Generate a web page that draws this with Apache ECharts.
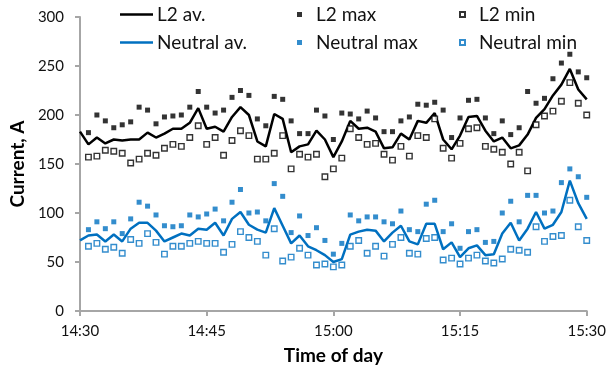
<!DOCTYPE html>
<html><head><meta charset="utf-8">
<script src="https://cdn.jsdelivr.net/npm/echarts@6/dist/echarts.min.js"></script>
<style>html,body{margin:0;padding:0;background:#fff}#c{width:609px;height:370px}</style>
</head><body><div id="c"></div>
<script>
// minutes after 14:30 (0..60)
const minutes = Array.from({length: 61}, (_, i) => i);
const tickLabels = ['14:30', '14:45', '15:00', '15:15', '15:30'];

const l2Av = [183,170,177,171,175,174,175,175,182,177,181,186,186,192,207,186,188,183,198,208,
  200,173,168,201,196,162,168,170,184,175,157,173,194,186,187,183,166,167,181,175,
  194,192,202,175,165,179,198,199,184,173,177,166,169,180,197,206,220,231,247,226,216];
const l2Max = [null,182,200,194,187,190,193,208,205,191,198,199,200,208,224,208,202,205,218,225,
  220,196,189,219,216,194,181,181,205,199,175,202,201,196,204,197,183,183,194,198,
  211,210,213,205,177,197,215,216,197,181,194,180,187,224,212,217,237,253,262,244,238];
const l2Min = [null,157,158,164,163,161,151,155,161,159,166,170,168,177,189,170,177,159,174,184,
  179,155,155,161,179,145,160,157,160,137,145,156,186,177,170,171,160,154,168,158,
  179,177,196,166,156,171,186,187,168,165,162,150,162,143,190,199,204,214,233,212,200];

const nAv = [72,77,78,71,78,71,84,90,90,82,71,75,79,77,84,83,90,77,94,101,
  88,83,80,105,87,69,77,66,62,57,50,53,78,81,83,82,71,80,87,71,
  68,89,89,63,70,55,64,67,57,58,79,90,72,84,101,84,88,101,133,110,94];
const nMax = [null,83,91,84,91,79,94,111,107,98,87,86,87,98,96,99,104,92,111,124,
  100,101,92,130,117,80,97,77,85,72,58,69,98,92,96,96,91,89,102,83,
  81,109,113,81,89,64,81,83,70,71,100,112,91,118,118,100,102,131,145,137,116];
const nMin = [null,66,69,63,65,59,73,69,79,70,58,66,66,69,71,69,69,60,68,81,
  75,71,57,84,51,55,64,57,47,48,45,47,66,72,59,66,56,68,75,59,
  58,74,75,52,54,48,54,57,51,49,53,63,62,60,86,71,76,77,113,86,72];

const BLUE = '#0070C0';
const FONT = 'Lato';
const pairs = arr => arr.map((v, i) => [minutes[i], v]);

const chart = echarts.init(document.getElementById('c'), null, {renderer: 'canvas'});

function legendItem(name, left, top, isLine) {
  return {
    data: [{name: name, icon: 'rect'}], left: left, top: top, orient: 'horizontal',
    itemWidth: isLine ? 33 : 5, itemHeight: isLine ? 2.5 : 5, itemGap: 0,
    textStyle: {fontFamily: FONT, fontSize: 19, color: '#111', padding: [0, 0, 0, isLine ? -1 : 9]},
    padding: 0, selectedMode: false
  };
}

chart.setOption({
  animation: false,
  backgroundColor: '#fff',
  grid: {left: 72, right: 21, top: 17, bottom: 59, containLabel: false},
  legend: [
    legendItem('L2 av.', 120, 5, true),
    legendItem('L2 max', 297, 5, false),
    legendItem('L2 min', 459, 5, false),
    legendItem('Neutral av.', 120, 33, true),
    legendItem('Neutral max', 297, 33, false),
    legendItem('Neutral min', 459, 33, false)
  ],
  xAxis: {
    type: 'value', min: 0, max: 60, interval: 15,
    name: 'Time of day', nameLocation: 'middle', nameGap: 35,
    nameTextStyle: {fontFamily: FONT, fontSize: 19, fontWeight: 'bold', color: '#000'},
    axisLine: {show: true, lineStyle: {color: '#A6A6A6', width: 2}},
    axisTick: {show: true, length: 5, lineStyle: {color: '#A6A6A6', width: 2}},
    axisLabel: {fontFamily: FONT, fontSize: 15, color: '#111', margin: 13,
      formatter: v => tickLabels[Math.round(v / 15)]},
    splitLine: {show: false}
  },
  yAxis: {
    type: 'value', min: 0, max: 300, interval: 50,
    name: 'Current, A', nameLocation: 'middle', nameGap: 47, nameRotate: 90,
    nameTextStyle: {fontFamily: FONT, fontSize: 19, fontWeight: 'bold', color: '#000'},
    axisLine: {show: true, lineStyle: {color: '#A6A6A6', width: 2}},
    axisTick: {show: true, length: 5, lineStyle: {color: '#A6A6A6', width: 2}},
    axisLabel: {fontFamily: FONT, fontSize: 15, color: '#111', margin: 16},
    splitLine: {show: false}
  },
  series: [
    {name: 'L2 av.', type: 'line', data: pairs(l2Av), symbol: 'none',
      lineStyle: {color: '#000', width: 2.5}, itemStyle: {color: '#000'}, z: 3},
    {name: 'L2 max', type: 'scatter', data: pairs(l2Max), symbol: 'rect', symbolSize: 5,
      itemStyle: {color: '#000'}, z: 4},
    {name: 'L2 min', type: 'scatter', data: pairs(l2Min), symbol: 'rect', symbolSize: 5.5,
      itemStyle: {color: '#fff', borderColor: '#000', borderWidth: 1.4}, z: 4},
    {name: 'Neutral av.', type: 'line', data: pairs(nAv), symbol: 'none',
      lineStyle: {color: BLUE, width: 2.5}, itemStyle: {color: BLUE}, z: 3},
    {name: 'Neutral max', type: 'scatter', data: pairs(nMax), symbol: 'rect', symbolSize: 5,
      itemStyle: {color: BLUE}, z: 4},
    {name: 'Neutral min', type: 'scatter', data: pairs(nMin), symbol: 'rect', symbolSize: 5.5,
      itemStyle: {color: '#fff', borderColor: BLUE, borderWidth: 1.4}, z: 4}
  ]
});
</script></body></html>
